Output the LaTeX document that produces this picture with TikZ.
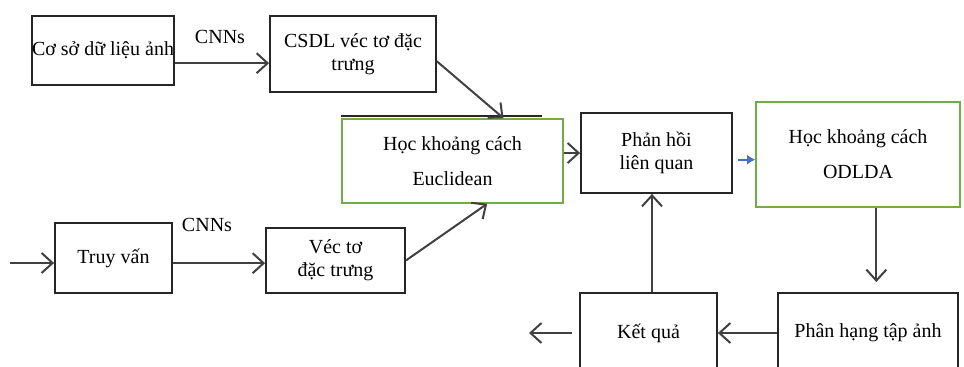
\documentclass[tikz,border=0pt]{standalone}
\usepackage{fontspec}
\setmainfont{Liberation Serif}
\usetikzlibrary{arrows.meta}
\definecolor{boxgreen}{RGB}{112,173,71}
\definecolor{arrowblue}{RGB}{68,114,196}

\begin{document}
\begin{tikzpicture}[
    x=0.5pt, y=-0.5pt,
    font=\fontsize{10}{11.5}\selectfont,
    box/.style={rectangle, draw=black!85, line width=0.9pt, align=center, inner sep=0pt},
    greenbox/.style={rectangle, draw=boxgreen, line width=0.8pt, align=center, inner sep=0pt},
    arrow/.style={-{Straight Barb[length=5.5pt,width=10pt]}, line width=1pt, draw=black!75},
    bluearrow/.style={-{Latex[length=4pt,width=5pt]}, line width=0.9pt, draw=arrowblue}
]
    \clip (0,0) rectangle (964,367);

    % Image database
    \node[box, minimum width=70pt, minimum height=34.5pt] (db) at (103,50.5) {Cơ sở dữ liệu ảnh};

    % Feature vector database
    \node[box, minimum width=83pt, minimum height=38pt] (dbfeat) at (353,54) {CSDL véc tơ đặc\\trưng};

    % Euclidean distance learning
    \node[greenbox, minimum width=110.5pt, minimum height=42pt] (eucl) at (452.5,161) {Học khoảng cách\\[6pt]Euclidean};
    \draw[line width=0.9pt, black!85] ([yshift=1pt]eucl.north west) -- ++(201,0);

    % Relevance feedback
    \node[box, minimum width=75.5pt, minimum height=40pt] (feedback) at (656.5,153) {Phản hồi\\liên quan};

    % ODLDA distance learning
    \node[greenbox, minimum width=102pt, minimum height=52.5pt] (odlda) at (858,154.5) {Học khoảng cách\\[6pt]ODLDA};

    % Query
    \node[box, minimum width=58.5pt, minimum height=35pt] (query) at (113.5,258) {Truy vấn};

    % Query feature vector
    \node[box, minimum width=69.5pt, minimum height=32.5pt] (qfeat) at (335.5,260.5) {Véc tơ\\đặc trưng};

    % Ranking
    \node[box, minimum width=90pt, minimum height=40pt] (rank) at (868,333) {Phân hạng tập ảnh};

    % Result
    \node[box, minimum width=68.5pt, minimum height=40pt] (result) at (648.5,333) {Kết quả};

    % CNN labels
    \node (cnna) at (220,37) {CNNs};
    \node (cnnb) at (207,225) {CNNs};

    % free ends
    \coordinate (qin) at (10,263);
    \coordinate (out) at (529,333);

    % Database side
    \draw[arrow] (db.-10) -- (db.-10 -| dbfeat.west);
    \draw[arrow] (dbfeat.-5.5) -- (eucl.40);

    % Query side
    \draw[arrow] (qin) -- (qin -| query.west);
    \draw[arrow] (query.-5) -- (query.-5 -| qfeat.west);
    \draw[arrow] (qfeat.east) -- (eucl.-51);

    % Feedback loop
    \draw[arrow] (feedback.west -| eucl.east) -- (feedback.west);
    \draw[bluearrow, shorten <=2.5pt] (feedback.-5) -- (feedback.-5 -| odlda.west);
    \draw[arrow, shorten >=5pt] (odlda.-71) -- (odlda.-71 |- rank.north);
    \draw[arrow] (rank.west) -- (result.east);
    \draw[arrow] ([xshift=1.75pt]result.north) -- ([xshift=1.75pt]result.north |- feedback.south);
    \draw[arrow, shorten <=3.5pt] (result.west) -- (out);

\end{tikzpicture}
\end{document}
